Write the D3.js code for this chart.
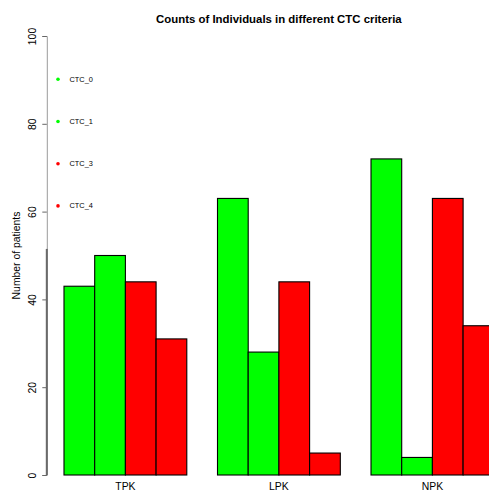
<!DOCTYPE html>
<html>
<head>
<meta charset="utf-8">
<script src="https://cdn.jsdelivr.net/npm/d3@7"></script>
<style>
  html, body { margin: 0; padding: 0; background: #fff; }
  svg { display: block; }
  text { font-family: "Liberation Sans", Arial, sans-serif; fill: #000; }
</style>
</head>
<body>
<svg id="chart" width="489" height="491"></svg>
<script>
// Patient counts per kinase group and CTC criterion
const groups = ["TPK", "LPK", "NPK"];
const criteria = ["CTC_0", "CTC_1", "CTC_3", "CTC_4"];
const criteriaColors = ["#00ff00", "#00ff00", "#ff0000", "#ff0000"];
const ctc0 = [43, 63, 72];
const ctc1 = [50, 28, 4];
const ctc3 = [44, 44, 63];
const ctc4 = [31, 5, 34];
const yTicks = [0, 20, 40, 60, 80, 100];

const series = [ctc0, ctc1, ctc3, ctc4];
const bars = [];
groups.forEach((g, gi) => {
  series.forEach((vals, si) => {
    bars.push({ group: g, gi, si, value: vals[gi], color: criteriaColors[si] });
  });
});

const svg = d3.select("#chart");

// Bar positions in barplot units: each group has 4 unit-wide bars preceded by a unit gap
const barsPerGroup = criteria.length;
const unitsPerGroup = barsPerGroup + 1;
const xMin = 1, xMax = groups.length * unitsPerGroup;
const pad = (xMax - xMin) * 0.04;
const x = d3.scaleLinear().domain([xMin - pad, xMax + pad]).range([46.8, 511]);
const y = d3.scaleLinear().domain([0, 100]).range([475, 36]);

const barLeft = d => 1 + d.gi * unitsPerGroup + d.si;

// Bars
svg.append("g").selectAll("rect").data(bars).join("rect")
  .attr("x", d => x(barLeft(d)))
  .attr("y", d => y(d.value))
  .attr("width", d => x(barLeft(d) + 1) - x(barLeft(d)))
  .attr("height", d => y(0) - y(d.value))
  .attr("fill", d => d.color)
  .attr("stroke", "#000")
  .attr("stroke-width", 1.1);

// Y axis
const axisX = x(xMin - pad);
const yAxis = svg.append("g").attr("transform", `translate(${axisX},0)`)
  .call(d3.axisLeft(y).tickValues(yTicks).tickSize(4.5).tickPadding(6).tickFormat(d3.format("d")));
yAxis.select(".domain").attr("stroke", "#9a9a9a").attr("stroke-width", 1);
yAxis.selectAll(".tick line").attr("stroke", "#666");
yAxis.selectAll(".tick text")
  .attr("font-size", 10.4)
  .attr("font-family", "Liberation Sans, Arial, sans-serif")
  .attr("fill", "#000")
  .attr("x", null).attr("dy", null)
  .attr("text-anchor", "middle")
  .attr("transform", "translate(-11,0) rotate(-90)");
// Heavier lower part of the axis line
svg.append("line")
  .attr("x1", axisX).attr("x2", axisX)
  .attr("y1", y(51.5)).attr("y2", y(0))
  .attr("stroke", "#6a6a6a").attr("stroke-width", 2);

// Group labels
svg.append("g").selectAll("text").data(groups).join("text")
  .attr("x", (g, i) => x(1 + i * unitsPerGroup + barsPerGroup / 2))
  .attr("y", 490)
  .attr("text-anchor", "middle")
  .attr("font-size", 10.4)
  .text(g => g);

// Y axis title
svg.append("text")
  .attr("transform", `translate(20,${(y(0) + y(100)) / 2}) rotate(-90)`)
  .attr("text-anchor", "middle")
  .attr("font-size", 10.4)
  .text("Number of patients");

// Chart title
svg.append("text")
  .attr("x", (x.range()[0] + x.range()[1]) / 2)
  .attr("y", 23)
  .attr("text-anchor", "middle")
  .attr("font-size", 11.4)
  .attr("font-weight", "bold")
  .text("Counts of Individuals in different CTC criteria");

// Legend
const legend = svg.append("g");
const legTop = 79.3, legStep = 42.2;
const legItems = legend.selectAll("g").data(criteria).join("g")
  .attr("transform", (d, i) => `translate(58,${legTop + i * legStep})`);
legItems.append("circle").attr("r", 1.8).attr("fill", (d, i) => criteriaColors[i]);
legItems.append("text")
  .attr("x", 11.5).attr("dy", "0.35em")
  .attr("font-size", 7.4)
  .text(d => d);
</script>
</body>
</html>
